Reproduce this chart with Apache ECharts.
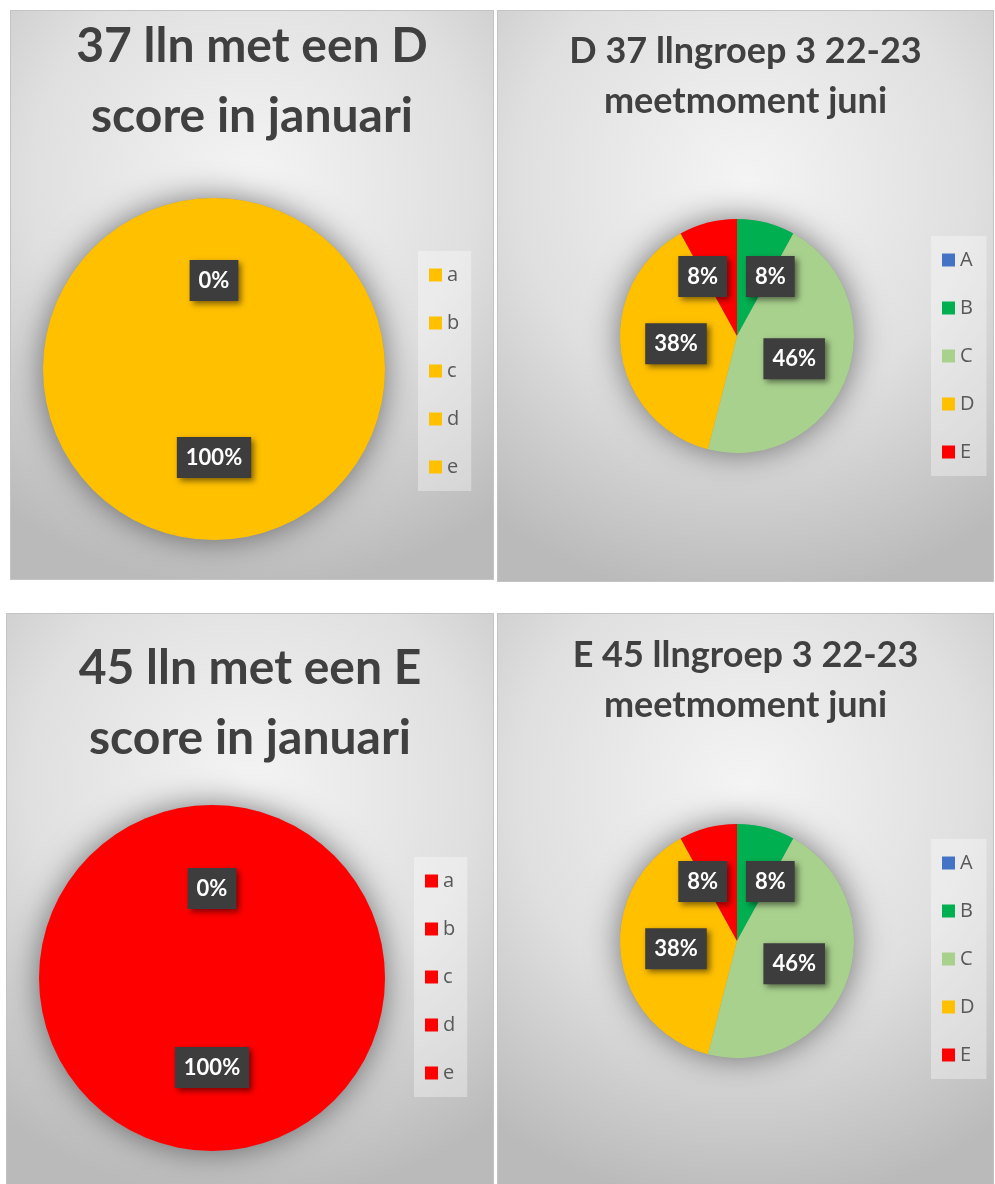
<!DOCTYPE html>
<html>
<head>
<meta charset="utf-8">
<script src="https://cdn.jsdelivr.net/npm/echarts@6/dist/echarts.min.js"></script>
<style>
  body { margin: 0; background: #fff; width: 995px; height: 1184px; position: relative; overflow: hidden; }
  .panel { position: absolute; box-sizing: border-box; border: 1px solid #c4c4c4; }
</style>
</head>
<body>
<div id="p1" class="panel" style="left:10px;top:10px;width:484px;height:570px"></div>
<div id="p2" class="panel" style="left:497px;top:10px;width:497px;height:572px"></div>
<div id="p3" class="panel" style="left:6px;top:613px;width:488px;height:580px"></div>
<div id="p4" class="panel" style="left:497px;top:613px;width:497px;height:580px"></div>
<script>
// categorieen
const janCats = ['a', 'b', 'c', 'd', 'e']
const junCats = ['A', 'B', 'C', 'D', 'E']

// waarden (A is leeg in juni)
const janD = [0, 0, 0, 37, 0]
const janE = [0, 0, 0, 0, 45]
const junD = [null, 8, 46, 38, 8]
const junE = [null, 8, 46, 38, 8]

const titles = [
  '37 lln met een D\nscore in januari',
  'D 37 llngroep 3 22-23\nmeetmoment juni',
  '45 lln met een E\nscore in januari',
  'E 45 llngroep 3 22-23\nmeetmoment juni'
]

const gradeColors = ['#4472C4', '#00B050', '#A9D18E', '#FFC000', '#FF0000']

const FONT = 'Lato, "Open Sans", sans-serif'

function makePanel(id, opt) {
  const chart = echarts.init(document.getElementById(id))
  const total = opt.values.reduce((s, v) => s + (v || 0), 0)
  const cx = opt.center[0]

  chart.setOption({
    backgroundColor: {
      type: 'radial', x: 0.5, y: 0.3, r: 0.85,
      colorStops: [
        { offset: 0, color: '#f4f4f4' },
        { offset: 0.55, color: '#dfdfdf' },
        { offset: 1, color: '#bababa' }
      ]
    },
    color: opt.colors,
    title: {
      text: opt.title,
      left: 'center',
      top: opt.titleTop,
      textStyle: {
        fontFamily: FONT,
        fontWeight: 'bold',
        fontSize: opt.titleSize,
        lineHeight: opt.titleLine,
        color: '#404040'
      }
    },
    legend: {
      orient: 'vertical',
      left: opt.legend[0],
      top: opt.legend[1],
      padding: [14, 12, 14, 11],
      backgroundColor: 'rgba(255,255,255,0.35)',
      itemWidth: 13,
      itemHeight: 13,
      itemGap: 28,
      itemStyle: { borderWidth: 0 },
      icon: 'rect',
      data: opt.cats,
      textStyle: { fontFamily: '"Open Sans", sans-serif', fontSize: 20, lineHeight: 20, color: '#595959' }
    },
    series: [
      {
        // schaduw onder de taart
        type: 'pie',
        silent: true,
        center: opt.center,
        radius: opt.radius,
        label: { show: false },
        data: [{ value: 1, name: '' }],
        itemStyle: {
          color: '#999',
          shadowBlur: 32,
          shadowColor: 'rgba(0,0,0,0.5)'
        },
        z: 1
      },
      {
        type: 'pie',
        center: opt.center,
        radius: opt.radius,
        startAngle: 90,
        clockwise: true,
        percentPrecision: 0,
        stillShowZeroSum: true,
        data: opt.cats.map((c, i) => ({
          name: c,
          value: opt.values[i],
          itemStyle: { color: Array.isArray(opt.colors) ? opt.colors[i] : opt.colors }
        })),
        label: {
          position: 'inside',
          formatter: '{d}%',
          fontFamily: FONT,
          fontWeight: 'bold',
          fontSize: 22,
          lineHeight: 26,
          color: '#fff',
          backgroundColor: '#3d3d3d',
          padding: [8, 9, 7, 9],
          shadowBlur: 6,
          shadowOffsetX: 3,
          shadowOffsetY: 3,
          shadowColor: 'rgba(0,0,0,0.5)'
        },
        labelLayout: function (p) {
          const v = opt.values[p.dataIndex]
          if (!v || !total) return { hideOverlap: true }
          // kleine stukjes: label naar buiten schuiven
          if (v / total < 0.1) {
            const mid = p.labelRect.x + p.labelRect.width / 2
            return { dx: mid < cx ? -19 : 18, hideOverlap: false }
          }
          return {}
        },
        emphasis: { disabled: true },
        z: 2
      }
    ]
  })
  return chart
}

makePanel('p1', {
  title: titles[0], titleTop: -4, titleSize: 48, titleLine: 70,
  cats: janCats, values: janD, colors: '#FFC000',
  center: [203, 358], radius: 171, legend: [407, 240]
})
makePanel('p2', {
  title: titles[1], titleTop: 10, titleSize: 36, titleLine: 50,
  cats: junCats, values: junD, colors: gradeColors,
  center: [239, 325], radius: 117, legend: [433, 225]
})
makePanel('p3', {
  title: titles[2], titleTop: 15, titleSize: 48, titleLine: 70,
  cats: janCats, values: janE, colors: '#FF0000',
  center: [205, 364], radius: 173, legend: [407, 243]
})
makePanel('p4', {
  title: titles[3], titleTop: 11, titleSize: 36, titleLine: 50,
  cats: junCats, values: junE, colors: gradeColors,
  center: [239, 327], radius: 117, legend: [433, 225]
})
</script>
</body>
</html>
